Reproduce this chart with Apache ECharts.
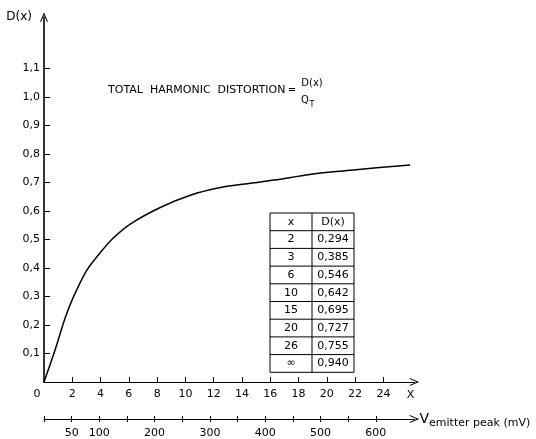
<!DOCTYPE html>
<html><head><meta charset="utf-8">
<script src="https://cdn.jsdelivr.net/npm/echarts@6/dist/echarts.min.js"></script>
<style>html,body{margin:0;padding:0;background:#fff}#c{width:536px;height:439px}</style>
</head><body><div id="c"></div>
<script>
// Curve
const curveX = [0, 0.8, 1.5, 2.05, 3.0, 4.0, 4.9, 6.1, 8.22, 10.35, 12.47, 14.6, 16.3, 18.8, 21.7, 25.9];
const curveD = [0, 0.115, 0.225, 0.295, 0.39, 0.455, 0.505, 0.554, 0.612, 0.655, 0.682, 0.697, 0.708, 0.728, 0.743, 0.761];
// Axis ticks / labels
const yTicks = [0.1, 0.2, 0.3, 0.4, 0.5, 0.6, 0.7, 0.8, 0.9, 1.0, 1.1];
const xTicks = [2, 4, 6, 8, 10, 12, 14, 16, 18, 20, 22, 24];
const xLabels = [0, 2, 4, 6, 8, 10, 12, 14, 16, 18, 20, 22, 24];
const vTicks = [0, 50, 100, 150, 200, 250, 300, 350, 400, 450, 500, 550, 600];
const vLabels = [50, 100, 200, 300, 400, 500, 600];
// Table
const tableX = ['2', '3', '6', '10', '15', '20', '26', '∞'];
const tableD = ['0,294', '0,385', '0,546', '0,642', '0,695', '0,727', '0,755', '0,940'];

const FONT = 'DejaVu Sans';
const chevron = 'path://M5,0 L10,12 L8.6,12 L5,3.2 L1.4,12 L0,12 Z';

const chart = echarts.init(document.getElementById('c'));

// table graphic
const tL = 270, tM = 312, tR = 354, tT = 213, rowH = 17.7;
const nRows = tableX.length + 1;
const g = [];
const lineStyle = {stroke: '#000', lineWidth: 1};
g.push({type: 'rect', shape: {x: tL, y: tT, width: tR - tL, height: rowH * nRows}, style: {fill: '#fff', stroke: '#000', lineWidth: 1}, z: 100});
g.push({type: 'line', shape: {x1: tM, y1: tT, x2: tM, y2: tT + rowH * nRows}, style: lineStyle, z: 101});
for (let i = 1; i < nRows; i++) {
  g.push({type: 'line', shape: {x1: tL, y1: tT + rowH * i, x2: tR, y2: tT + rowH * i}, style: lineStyle, z: 101});
}
const cell = (txt, cx, cy) => ({type: 'text', x: cx, y: cy, z: 102,
  style: {text: txt, fill: '#000', font: '11px "' + FONT + '"', align: 'center', verticalAlign: 'middle'}});
g.push(cell('x', (tL + tM) / 2, tT + rowH / 2));
g.push(cell('D(x)', (tM + tR) / 2, tT + rowH / 2));
tableX.forEach((v, i) => {
  g.push(cell(v, (tL + tM) / 2, tT + rowH * (i + 1.5)));
  g.push(cell(tableD[i], (tM + tR) / 2, tT + rowH * (i + 1.5)));
});
// title formula
const txt = (t, x, y, size, align) => ({type: 'text', x: x, y: y, z: 102,
  style: {text: t, fill: '#000', font: size + 'px "' + FONT + '"', align: align || 'left', verticalAlign: 'middle'}});
g.push(txt('TOTAL  HARMONIC  DISTORTION', 108, 90, 11));
g.push(txt('=', 292, 90, 10, 'center'));
g.push(txt('D(x)', 312, 83, 10, 'center'));
g.push(txt('Q', 305, 100, 10, 'center'));
g.push(txt('T', 312, 105, 8, 'center'));

const option = {
  backgroundColor: '#fff',
  animation: false,
  grid: {left: 44, right: 121.5, top: 17, bottom: 55, containLabel: false},
  graphic: g,
  xAxis: [
    {
      type: 'value', min: 0, max: 26.2, position: 'bottom',
      name: 'X', nameLocation: 'end', nameGap: -4,
      nameTextStyle: {fontFamily: FONT, fontSize: 11, color: '#000', align: 'center', verticalAlign: 'top', padding: [8, 0, 0, 0]},
      axisLine: {show: true, onZero: false, lineStyle: {color: '#000', width: 1.2}, symbol: ['none', chevron], symbolSize: [8, 10]},
      axisTick: {show: true, inside: true, length: 5, customValues: xTicks, lineStyle: {color: '#000'}},
      axisLabel: {show: true, customValues: xLabels, margin: 7, color: '#000', fontFamily: FONT, fontSize: 11,
        formatter: v => v === 0 ? '{z|0}' : String(v), rich: {z: {padding: [0, 14, 0, 0], fontFamily: FONT, fontSize: 11, color: '#000'}}},
      splitLine: {show: false}
    },
    {
      type: 'value', min: 0, max: 670, position: 'bottom', offset: 37, gridIndex: 0,
      name: '{v|V}{s|emitter peak (mV)}', nameLocation: 'end', nameGap: 5,
      nameTextStyle: {rich: {v: {fontFamily: FONT, fontSize: 14, color: '#000'}, s: {fontFamily: FONT, fontSize: 11, color: '#000', padding: [8, 0, 0, 0]}}},
      axisLine: {show: true, onZero: false, lineStyle: {color: '#000', width: 1}, symbol: ['none', chevron], symbolSize: [8, 10]},
      axisTick: {show: true, inside: false, length: 3, customValues: vTicks, lineStyle: {color: '#000'}},
      axisLabel: {show: true, customValues: vLabels, margin: 9, color: '#000', fontFamily: FONT, fontSize: 11},
      splitLine: {show: false}
    },
    {
      type: 'value', min: 0, max: 670, position: 'bottom', offset: 37, gridIndex: 0,
      axisLine: {show: false, onZero: false},
      axisTick: {show: true, inside: true, length: 3, customValues: vTicks, lineStyle: {color: '#000'}},
      axisLabel: {show: false},
      splitLine: {show: false}
    }
  ],
  yAxis: {
    type: 'value', min: 0, max: 1.28,
    name: 'D(x)', nameLocation: 'end', nameGap: 0,
    nameTextStyle: {fontFamily: FONT, fontSize: 12, color: '#000', align: 'right', verticalAlign: 'middle', padding: [0, 12, 0, 0]},
    axisLine: {show: true, onZero: false, lineStyle: {color: '#000', width: 1.6}, symbol: ['none', chevron], symbolSize: [8, 10]},
    axisTick: {show: true, inside: true, length: 6, customValues: yTicks, lineStyle: {color: '#000'}},
    axisLabel: {show: true, customValues: yTicks, margin: 4, color: '#000', fontFamily: FONT, fontSize: 11,
      formatter: v => v.toFixed(1).replace('.', ',')},
    splitLine: {show: false}
  },
  series: [{
    type: 'line', xAxisIndex: 0, yAxisIndex: 0,
    data: curveX.map((x, i) => [x, curveD[i]]),
    smooth: 0.3, showSymbol: false, symbol: 'none',
    lineStyle: {color: '#000', width: 1.5}
  }]
};
chart.setOption(option);
</script>
</body></html>
